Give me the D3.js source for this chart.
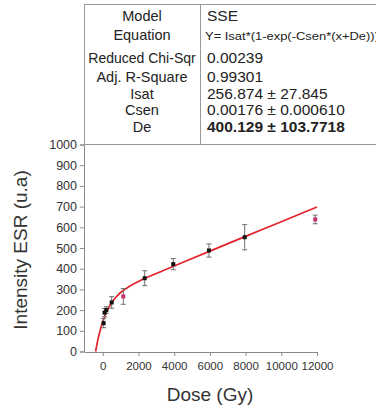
<!DOCTYPE html>
<html><head><meta charset="utf-8">
<script src="https://cdn.jsdelivr.net/npm/d3@7"></script>
<style>html,body{margin:0;padding:0;background:#fff;}svg{display:block;font-family:"Liberation Sans",Arial,sans-serif;}</style>
</head><body>
<svg id="chart" width="376" height="407"></svg>
<script>
// ---- data ----
const doses = [50, 100, 200, 500, 1150, 2350, 3950, 5950, 7950, 11900];
const intensity = [137, 188, 200, 237, 266, 354, 422, 488, 552, 638];
const errors = [22, 20, 16, 28, 38, 36, 27, 32, 61, 21];
const pointGroup = ["k","k","k","k","p","k","k","k","k","p"];
const fitDose = [-400, -350, -300, -200, -100, 0, 100, 200, 400, 600, 800, 1000, 1500, 2000, 3000, 4000, 6000, 8000, 10000, 12000];
const fitIntensity = [0, 23, 45, 83, 116, 144, 168, 189, 222, 248, 268, 285, 315, 338, 377, 413, 485, 556, 627, 698];
const yTicks = [0,100,200,300,400,500,600,700,800,900,1000];
const xTicks = [0,2000,4000,6000,8000,10000,12000];
const tableLabels = ["Model","Equation","Reduced Chi-Sqr","Adj. R-Square","Isat","Csen","De"];
const tableValues = ["SSE","Y= Isat*(1-exp(-Csen*(x+De)))","0.00239","0.99301","256.874 \u00b1 27.845","0.00176 \u00b1 0.000610","400.129 \u00b1 103.7718"];

// ---- layout ----
const svg = d3.select("#chart");
const x = d3.scaleLinear().domain([-1050, 12000]).range([84, 317]);
const y = d3.scaleLinear().domain([0, 1000]).range([351.5, 144.5]);
const axisColor = "#8a8a8a", textColor = "#333";

// table
const rowBaselines = [21, 40, 63, 81.5, 99, 114.5, 131.5];
const tbl = svg.append("g");
tbl.append("line").attr("x1",84).attr("x2",376).attr("y1",4.5).attr("y2",4.5).attr("stroke","#999");
tbl.append("line").attr("x1",84.5).attr("x2",84.5).attr("y1",4).attr("y2",145).attr("stroke","#999");
tbl.append("line").attr("x1",200.5).attr("x2",200.5).attr("y1",4).attr("y2",144).attr("stroke","#999");
tbl.append("line").attr("x1",84).attr("x2",376).attr("y1",144.5).attr("y2",144.5).attr("stroke","#999");
tbl.selectAll("text.lab").data(tableLabels).join("text").attr("class","lab")
  .attr("x",142).attr("y",(d,i)=>rowBaselines[i]).attr("text-anchor","middle")
  .attr("font-size",(d,i)=> i===2 ? 14 : 14.5).attr("fill","#222").text(d=>d);
tbl.selectAll("text.val").data(tableValues).join("text").attr("class","val")
  .attr("x",(d,i)=> i===1 ? 205 : 207).attr("y",(d,i)=>rowBaselines[i])
  .attr("font-size",(d,i)=> i===1 ? 10.5 : 15.5)
  .attr("font-weight",(d,i)=> i===6 ? "bold" : "normal")
  .attr("fill","#222")
  .each(function(d,i){ if(i===1){ d3.select(this).attr("textLength",174).attr("lengthAdjust","spacingAndGlyphs"); } })
  .text(d=>d);

// y axis
const gy = svg.append("g").attr("transform","translate(84,0)")
  .call(d3.axisLeft(y).tickValues(yTicks).tickSize(4).tickPadding(3).tickFormat(d3.format("d")));
gy.select(".domain").attr("stroke",axisColor);
gy.selectAll(".tick line").attr("stroke",axisColor);
gy.selectAll(".tick text").attr("fill",textColor).attr("font-size",12.5).attr("font-family","Liberation Sans, Arial, sans-serif");

// x axis
const gx = svg.append("g").attr("transform","translate(0,352)")
  .call(d3.axisBottom(x).tickValues(xTicks).tickSize(4).tickSizeOuter(0).tickPadding(6).tickFormat(d3.format("d")));
gx.select(".domain").attr("stroke",axisColor);
gx.selectAll(".tick line").attr("stroke",axisColor);
gx.selectAll(".tick text").attr("fill",textColor).attr("font-size",11.5).attr("font-family","Liberation Sans, Arial, sans-serif");

// titles
svg.append("text").attr("x",210).attr("y",401).attr("text-anchor","middle")
  .attr("font-size",19).attr("fill",textColor).text("Dose (Gy)");
svg.append("text").attr("transform","translate(27,250) rotate(-90)").attr("text-anchor","middle")
  .attr("font-size",19).attr("fill",textColor).text("Intensity ESR (u.a)");

// fit curve
const line = d3.line().x((d,i)=>x(fitDose[i])).y(d=>y(d)).curve(d3.curveMonotoneX);
svg.append("path").datum(fitIntensity).attr("d",line).attr("fill","none")
  .attr("stroke","#e1242c").attr("stroke-width",1.7);

// error bars
const pts = doses.map((d,i)=>({dose:d, v:intensity[i], e:errors[i], g:pointGroup[i]}));
const eb = svg.append("g").attr("stroke","#6f6f6f").attr("stroke-width",1);
eb.selectAll("line.v").data(pts).join("line").attr("class","v")
  .attr("x1",d=>x(d.dose)).attr("x2",d=>x(d.dose)).attr("y1",d=>y(d.v-d.e)).attr("y2",d=>y(d.v+d.e));
eb.selectAll("line.t").data(pts).join("line").attr("class","t")
  .attr("x1",d=>x(d.dose)-2.5).attr("x2",d=>x(d.dose)+2.5).attr("y1",d=>y(d.v+d.e)).attr("y2",d=>y(d.v+d.e));
eb.selectAll("line.b").data(pts).join("line").attr("class","b")
  .attr("x1",d=>x(d.dose)-2.5).attr("x2",d=>x(d.dose)+2.5).attr("y1",d=>y(d.v-d.e)).attr("y2",d=>y(d.v-d.e));

// markers
svg.append("g").selectAll("rect").data(pts).join("rect")
  .attr("x",d=>x(d.dose)-2).attr("y",d=>y(d.v)-2).attr("width",4).attr("height",4)
  .attr("fill",d=>d.g==="p" ? "#c8306e" : "#111");
</script>
</body></html>
